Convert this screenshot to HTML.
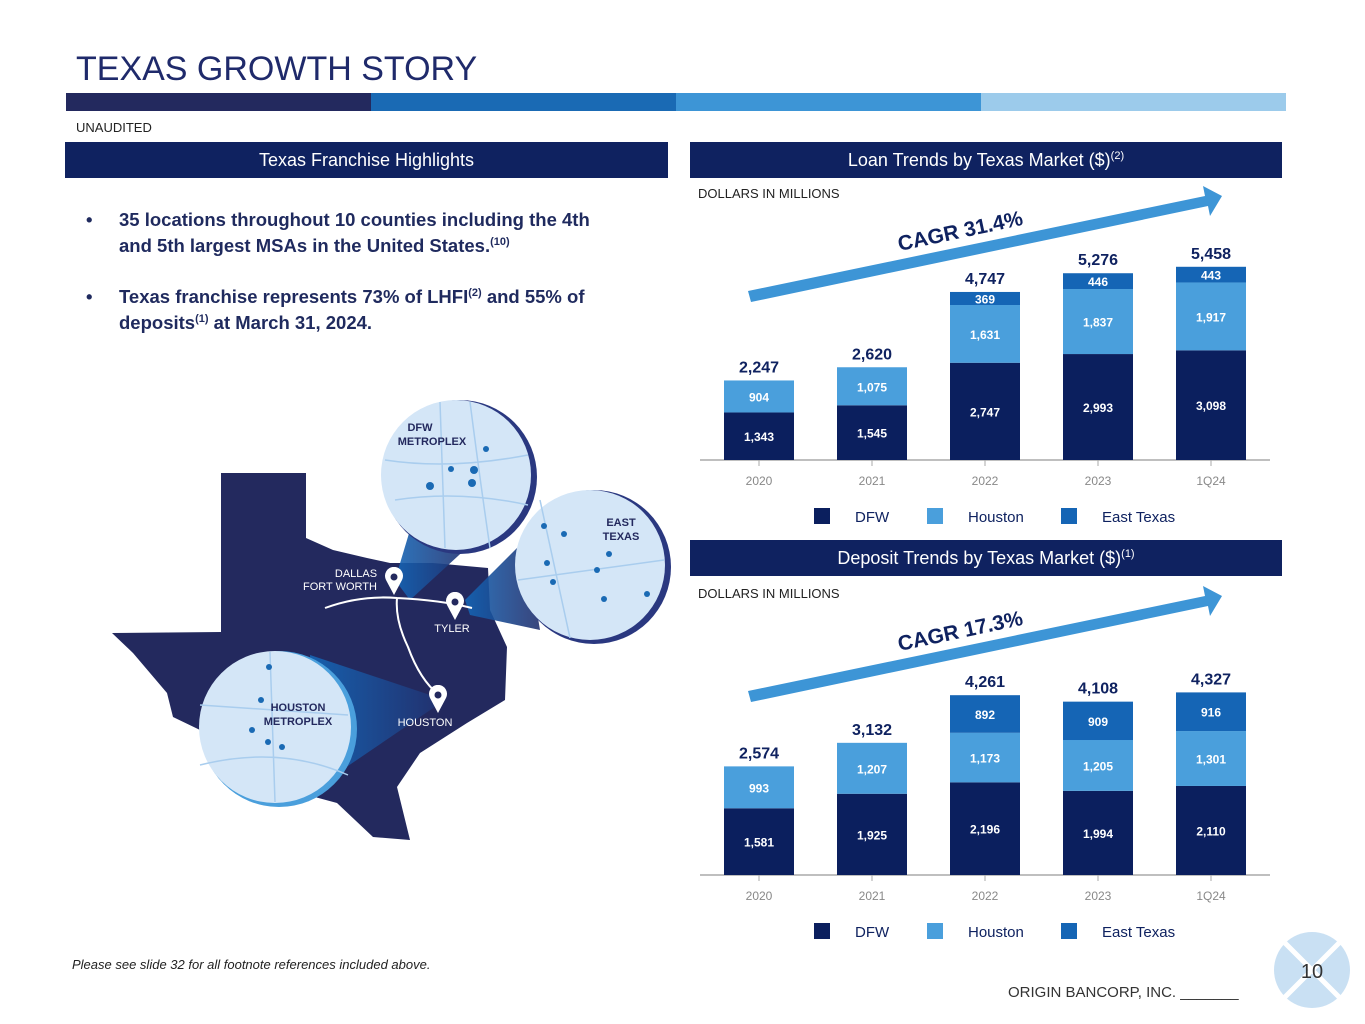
<!DOCTYPE html>
<html><head><meta charset="utf-8"><style>
body{margin:0;width:1365px;height:1024px;background:#fff;font-family:"Liberation Sans",sans-serif;position:relative;overflow:hidden}
.abs{position:absolute}
sup{line-height:0;vertical-align:super}
.hdr{position:absolute;height:36px;background:#0f2260;color:#fff;font-size:18px;text-align:center;line-height:36px}
.hdr sup{font-size:11px}
</style></head><body>
<div class="abs" style="left:76px;top:50px;font-size:34px;color:#1f2a6b">TEXAS GROWTH STORY</div>
<div class="abs" style="left:66px;top:93px;width:1220px;height:18px;display:flex">
<div style="flex:1;background:#23295e"></div><div style="flex:1;background:#1a6ab4"></div><div style="flex:1;background:#3d95d6"></div><div style="flex:1;background:#9ccbeb"></div></div>
<div class="abs" style="left:76px;top:120px;font-size:13px;color:#222">UNAUDITED</div>
<div class="hdr" style="left:65px;top:142px;width:603px">Texas Franchise Highlights</div>
<div class="hdr" style="left:690px;top:142px;width:592px">Loan Trends by Texas Market ($)<sup>(2)</sup></div>
<div class="hdr" style="left:690px;top:540px;width:592px">Deposit Trends by Texas Market ($)<sup>(1)</sup></div>
<div class="abs" style="left:86px;top:207px;width:566px;font-size:18.5px;font-weight:bold;color:#1f2a5e;line-height:26px">
<div style="display:flex"><span style="width:33px;flex:none">•</span><span>35 locations throughout 10 counties including the 4th<br>and 5th largest MSAs in the United States.<sup style="font-size:11px">(10)</sup></span></div>
<div style="display:flex;margin-top:25px"><span style="width:33px;flex:none">•</span><span>Texas franchise represents 73% of LHFI<sup style="font-size:11px">(2)</sup> and 55% of<br>deposits<sup style="font-size:11px">(1)</sup> at March 31, 2024.</span></div>
</div>
<div class="abs" style="left:72px;top:957px;font-size:13px;font-style:italic;color:#222">Please see slide 32 for all footnote references included above.</div>
<div class="abs" style="left:1008px;top:984px;font-size:15px;color:#333">ORIGIN BANCORP, INC. _______</div>
<svg class="abs" style="left:1270px;top:930px" width="90" height="90">
<circle cx="42" cy="40" r="38" fill="#c9e0f3"/><path d="M15 13L69 67M69 13L15 67" stroke="#fff" stroke-width="5"/>
<text x="42" y="48" font-size="20" text-anchor="middle" fill="#333" font-family="Liberation Sans">10</text></svg>

<svg class="abs" style="left:0;top:0" width="690" height="950">
<defs><linearGradient id="g" x1="0" x2="1"><stop offset="0" stop-color="#1565b5"/><stop offset="1" stop-color="#22306e"/></linearGradient>
<symbol id="pin" viewBox="-10 -10 20 30"><path d="M0,18 L-8,3 A9,9 0 1 1 8,3 Z" fill="#fff"/></symbol></defs>
<polygon fill="#23295e" points="221,473 306,473 306,538 333,550 367,558 390,563 433,563 488,568 490,610 507,647 505,700 467,723 420,753 397,787 410,840 373,837 337,803 300,793 200,730 173,717 167,693 133,653 112,633 221,632"/>
<polygon fill="url(#g)" opacity="0.9" points="395,580 410,530 470,545 410,600"/>
<polygon fill="url(#g)" opacity="0.9" points="465,600 525,540 540,630 470,615"/>
<polygon fill="url(#g)" opacity="0.9" points="445,700 310,655 320,785"/>
<path d="M325,608 Q360,595 397,598 Q440,600 472,608 M397,598 Q395,620 408,647 Q420,680 439,695" stroke="#fff" stroke-width="2" fill="none"/>
<circle cx="460" cy="477" r="77" fill="#2a3880"/><circle cx="456" cy="475" r="75" fill="#d4e6f7"/>
<circle cx="594" cy="567" r="77" fill="#2a3880"/><circle cx="590" cy="565" r="75" fill="#d4e6f7"/>
<circle cx="279" cy="729" r="78" fill="#4a9fdc"/><circle cx="275" cy="727" r="76" fill="#d4e6f7"/>
<g stroke="#a9cdee" stroke-width="1.5" fill="none">
<path d="M385,460 Q450,470 528,455 M395,500 Q460,490 528,505 M440,402 L445,548 M470,402 Q480,480 490,548 M518,580 L664,560 M540,500 L570,638 M200,705 L348,715 M270,652 L275,802 M200,765 Q280,745 348,775"/></g>
<g fill="#1a6ab4"><circle cx="430" cy="486" r="4"/><circle cx="451" cy="469" r="3"/><circle cx="474" cy="470" r="4"/><circle cx="472" cy="483" r="4"/><circle cx="486" cy="449" r="3"/>
<circle cx="544" cy="526" r="3"/><circle cx="564" cy="534" r="3"/><circle cx="547" cy="563" r="3"/><circle cx="609" cy="554" r="3"/><circle cx="597" cy="570" r="3"/><circle cx="553" cy="582" r="3"/><circle cx="604" cy="599" r="3"/><circle cx="647" cy="594" r="3"/>
<circle cx="269" cy="667" r="3"/><circle cx="261" cy="700" r="3"/><circle cx="252" cy="730" r="3"/><circle cx="268" cy="742" r="3"/><circle cx="282" cy="747" r="3"/></g>
<use href="#pin" x="384" y="567" width="20" height="30"/><use href="#pin" x="445" y="592" width="20" height="30"/><use href="#pin" x="428" y="685" width="20" height="30"/>
<g fill="#23295e"><circle cx="394" cy="577" r="3.5"/><circle cx="455" cy="602" r="3.5"/><circle cx="438" cy="695" r="3.5"/></g>
<g font-family="Liberation Sans" font-weight="bold" fill="#23295e" font-size="11" text-anchor="middle">
<text x="420" y="431">DFW</text><text x="432" y="445">METROPLEX</text><text x="621" y="526">EAST</text><text x="621" y="540">TEXAS</text>
<text x="298" y="711">HOUSTON</text><text x="298" y="725">METROPLEX</text></g>
<g font-family="Liberation Sans" fill="#fff" font-size="11" text-anchor="middle">
<text x="356" y="577">DALLAS</text><text x="340" y="590">FORT WORTH</text><text x="452" y="632">TYLER</text><text x="425" y="726">HOUSTON</text></g>
</svg>

<svg class="abs" id="chart" style="left:0;top:0" width="1365" height="1024"></svg>
<script>
const categories=["2020","2021","2022","2023","1Q24"];
const loanDFW=[1343,1545,2747,2993,3098];
const loanHouston=[904,1075,1631,1837,1917];
const loanEast=[0,0,369,446,443];
const loanTotals=[2247,2620,4747,5276,5458];
const depDFW=[1581,1925,2196,1994,2110];
const depHouston=[993,1207,1173,1205,1301];
const depEast=[0,0,892,909,916];
const depTotals=[2574,3132,4261,4108,4327];
const seriesNames=["DFW","Houston","East Texas"];
const colors=["#0b1f5e","#4a9fdc","#1565b5"];
const NS="http://www.w3.org/2000/svg";
const svg=document.getElementById('chart');
function mk(t,a,p){const e=document.createElementNS(NS,t);for(const k in a)e.setAttribute(k,a[k]);(p||svg).appendChild(e);return e;}
function fmt(v){return v.toLocaleString('en-US');}
function chart(name,top,axisY,scale,series,totals,cagr){
  const g=mk('g',{});
  
  
  const xc=i=>759+i*113;
  const yv=v=>axisY-v*scale;
  const t0=mk('text',{x:698,y:top+20,'font-size':13,fill:'#222','font-family':'Liberation Sans'},g);t0.textContent='DOLLARS IN MILLIONS';
  
  
  const ar=mk('polygon',{points:`748,${top+113} 1205,${top+18} 1203,${top+8} 1222,${top+18} 1210,${top+38} 1208,${top+28} 751,${top+124}`,fill:'#3d95d6'},g);
  
  
  const ct=mk('text',{x:960,y:top+60,'font-size':21,'font-weight':'bold',fill:'#0f2260','font-family':'Liberation Sans','text-anchor':'middle',transform:`rotate(-12 960 ${top+52})`},g);ct.textContent=cagr;
  
  
  mk('line',{x1:700,x2:1270,y1:axisY,y2:axisY,stroke:'#aaa','stroke-width':1.5},g);
  categories.forEach((c,i)=>{
    let base=0;
    series.forEach((s,k)=>{
      const v=s[i]; if(!v)return;
      const r=mk('rect',{x:xc(i)-35,y:yv(base+v),width:70,height:v*scale,fill:colors[k]},g);
      
      
      const tl=mk('text',{x:xc(i),y:yv(base+v/2)+5,'font-size':12,'font-weight':'bold',fill:'#fff','text-anchor':'middle','font-family':'Liberation Sans'},g);tl.textContent=fmt(v);
      
      
      base+=v;
    });
    const tt=mk('text',{x:xc(i),y:yv(totals[i])-8,'font-size':16,'font-weight':'bold',fill:'#0f2260','text-anchor':'middle','font-family':'Liberation Sans'},g);tt.textContent=fmt(totals[i]);
    
    
    mk('line',{x1:xc(i),x2:xc(i),y1:axisY,y2:axisY+6,stroke:'#aaa'},g);
    const xl=mk('text',{x:xc(i),y:axisY+25,'font-size':12,fill:'#888','text-anchor':'middle','font-family':'Liberation Sans'},g);xl.textContent=c;
    
    
  });
  const lx=[814,927,1061],ly=axisY+48;
  seriesNames.forEach((n,k)=>{
    const sw=mk('rect',{x:lx[k],y:ly,width:16,height:16,fill:colors[k]},g);
    
    
    const lt=mk('text',{x:lx[k]+41,y:ly+14,'font-size':15,fill:'#0f2260','font-family':'Liberation Sans'},g);lt.textContent=n;
    
    
  });
}
chart('loan-chart',178,460,0.0354,[loanDFW,loanHouston,loanEast],loanTotals,'CAGR 31.4%');
chart('deposit-chart',578,875,0.0422,[depDFW,depHouston,depEast],depTotals,'CAGR 17.3%');
</script>
</body></html>
